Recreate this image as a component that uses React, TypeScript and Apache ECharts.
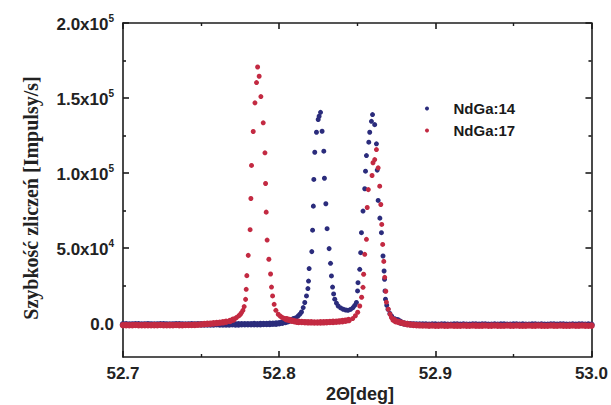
import { useEffect, useRef } from 'react';
import * as echarts from 'echarts';

// ---------- data ----------
const seriesNames = ['NdGa:14', 'NdGa:17'];

const xTickLabels = ['52.7', '52.8', '52.9', '53.0'];
const yMajorTicks = [0, 50000, 100000, 150000, 200000];
const yTickMantissa = ['0.0', '5.0x10', '1.0x10', '1.5x10', '2.0x10'];
const yTickExponent = ['', '4', '5', '5', '5'];
const yMinorTicks = [25000, 75000, 125000, 175000];

// scan grid: start angle and step (deg) for baseline stretches
const BASE_STEP = 0.002;

// NdGa:14 (blue)
const nd14BaseLeftStart = 52.7;
const nd14BaseLeft = [
  -800, -750, -850, -800, -700, -750, -850, -800, -750, -800,
  -850, -800, -700, -750, -800, -850, -800, -750, -700, -800,
  -850, -800, -750, -800, -700, -750, -850, -800, -750, -800,
  -700, -750, -800, -850, -750, -700, -800, -750, -700, -650,
  -700, -650, -600, -650, -600, -550, -500, -450, -350, -250,
  0, 400, 900,
];
const nd14PeakX = [
  52.8056, 52.8075, 52.8094, 52.8108, 52.8122, 52.8133, 52.8143, 52.8154, 52.8164, 52.8175,
  52.8184, 52.8188, 52.8192, 52.8209, 52.8214, 52.8219, 52.8222, 52.8228, 52.8239, 52.825,
  52.8256, 52.8265, 52.8275, 52.8286, 52.829, 52.8299, 52.8307, 52.832, 52.8329, 52.8335,
  52.8342, 52.8349, 52.8356, 52.8367, 52.8378, 52.8394, 52.841, 52.8426, 52.8441, 52.8457,
  52.8473, 52.8484, 52.8495, 52.8502, 52.8505, 52.8516, 52.8522, 52.8527, 52.8537, 52.8548,
  52.8553, 52.8559, 52.8574, 52.858, 52.8591, 52.8598, 52.8612, 52.8623, 52.8628, 52.8634,
  52.8645, 52.8655, 52.8665, 52.8672, 52.8675, 52.8678, 52.8681, 52.8689, 52.8697, 52.8709,
  52.8721, 52.874, 52.8759, 52.8775,
];
const nd14PeakY = [
  1300, 2000, 2700, 3700, 4900, 6100, 7500, 10400, 13800, 18200,
  23100, 28100, 36400, 47700, 62000, 78000, 95800, 113900, 127200, 135700,
  137900, 140500, 127900, 114600, 96600, 79600, 63000, 49700, 39900, 31500,
  24100, 19500, 16000, 13400, 11500, 10200, 9300, 8800, 8600, 9200,
  10400, 11900, 13800, 21500, 27000, 35900, 47000, 60300, 74700, 89600,
  101300, 111700, 120600, 127200, 134500, 139000, 132300, 119500, 102000, 81800,
  70000, 60300, 44800, 34800, 29300, 21500, 16000, 12000, 9300, 6500,
  4700, 3000, 2000, 1000,
];
const nd14BaseRightStart = 52.878;
const nd14BaseRight = [
  300, -200, -500, -700, -800, -900, -850, -950, -900, -1000,
  -950, -900, -1000, -950, -900, -1000, -1050, -950, -900, -1000,
  -950, -1000, -1050, -900, -950, -1000, -950, -900, -1000, -1050,
  -950, -1000, -900, -950, -1000, -1050, -950, -900, -1000, -950,
  -1000, -1050, -950, -900, -1000, -950, -1000, -1050, -900, -950,
  -1000, -950, -900, -1000, -1050, -950, -1000, -900, -950, -1000,
  -950, -1000,
];

// NdGa:17 (red)
const nd17BaseLeftStart = 52.7;
const nd17BaseLeft = [
  -1300, -1250, -1350, -1300, -1200, -1300, -1350, -1250, -1300, -1350,
  -1250, -1300, -1200, -1300, -1350, -1250, -1300, -1200, -1250, -1300,
  -1200, -1150, -1200, -1100, -1000, -800, -600, -450, -300, -100,
  100, 300, 600, 1000,
];
const nd17Peak1X = [
  52.7685, 52.7704, 52.7716, 52.7727, 52.7742, 52.7752, 52.7759, 52.7768, 52.7776, 52.7785,
  52.7789, 52.7793, 52.7802, 52.7814, 52.7819, 52.7823, 52.7834, 52.7845, 52.7855, 52.7862,
  52.7872, 52.7883, 52.7898, 52.7909, 52.7913, 52.7917, 52.7923, 52.7934, 52.7945, 52.7951,
  52.7958, 52.7968, 52.7979, 52.7994, 52.8006, 52.8017, 52.803, 52.8047, 52.8064, 52.8081,
  52.8097, 52.8113,
];
const nd17Peak1Y = [
  1500, 2300, 3000, 3800, 5000, 6000, 7100, 8600, 11100, 15900,
  22600, 31700, 45200, 62300, 83100, 105100, 127700, 146800, 160300, 170700,
  164500, 151000, 133500, 113500, 93100, 74000, 55400, 42600, 32800, 24100,
  18200, 12600, 8600, 6000, 4800, 4000, 3300, 2700, 2200, 1700,
  1300, 1000,
];
const nd17BaseMidStart = 52.8125;
const nd17BaseMid = [900, 800, 700, 600, 600, 500, 500, 550, 600, 700, 800, 900, 1000, 1200, 1400, 1700, 2100];
const nd17Peak2X = [
  52.8471, 52.8488, 52.8503, 52.8516, 52.8528, 52.8537, 52.8541, 52.8548, 52.8559, 52.8564,
  52.8571, 52.8595, 52.8601, 52.8612, 52.8623, 52.8634, 52.8644, 52.8651, 52.8657, 52.8663,
  52.867, 52.8676, 52.8683, 52.8687, 52.8699, 52.871, 52.8719, 52.8733, 52.8747, 52.8765,
  52.8783,
];
const nd17Peak2Y = [
  3100, 5000, 7300, 11500, 17300, 23900, 32600, 45900, 55900, 77100,
  89000, 98400, 106900, 109000, 115700, 103500, 91300, 79100, 65800, 52500,
  41200, 30600, 21300, 14000, 9300, 6000, 3800, 2300, 1300, 800,
  300,
];
const nd17BaseRightStart = 52.88;
const nd17BaseRight = [
  -200, -600, -900, -1100, -1300, -1400, -1500, -1550, -1600, -1500,
  -1650, -1600, -1550, -1700, -1600, -1500, -1650, -1600, -1700, -1550,
  -1600, -1650, -1500, -1600, -1700, -1600, -1550, -1650, -1600, -1500,
  -1600, -1700, -1650, -1550, -1600, -1650, -1500, -1600, -1700, -1600,
  -1550, -1650, -1600, -1500, -1600, -1700, -1650, -1550, -1600, -1650,
  -1500, -1600, -1700, -1600, -1550, -1650, -1600, -1500, -1600, -1650,
  -1600,
];

// ---------- helpers ----------
const onGrid = (start: number, values: number[]) =>
  values.map((v, i) => [+(start + i * BASE_STEP).toFixed(4), v]);
const pairs = (xs: number[], ys: number[]) => xs.map((x, i) => [x, ys[i]]);

const SANS = '"Liberation Sans", Arial, Helvetica, sans-serif';
const SERIF = '"Liberation Serif", "Times New Roman", serif';
const AXIS_COLOR = '#1c1c1c';
const BLUE = '#2b2c7c';
const RED = '#c32a42';

// markers near the baseline drawn a little larger (dense band in the original)
const markerSize = (val: number[]) => (Math.abs(val[1]) < 3000 ? 6.5 : 5);

export default function App() {
  const ref = useRef<HTMLDivElement>(null);

  useEffect(() => {
    if (!ref.current) return;
    const chart = echarts.init(ref.current, null, { renderer: 'svg' });

    const nd14Data = [
      ...onGrid(nd14BaseLeftStart, nd14BaseLeft),
      ...pairs(nd14PeakX, nd14PeakY),
      ...onGrid(nd14BaseRightStart, nd14BaseRight),
    ];
    const nd17Data = [
      ...onGrid(nd17BaseLeftStart, nd17BaseLeft),
      ...pairs(nd17Peak1X, nd17Peak1Y),
      ...onGrid(nd17BaseMidStart, nd17BaseMid),
      ...pairs(nd17Peak2X, nd17Peak2Y),
      ...onGrid(nd17BaseRightStart, nd17BaseRight),
    ];

    const xMin = Number(xTickLabels[0]);
    const xMax = Number(xTickLabels[xTickLabels.length - 1]);
    const yMin = -22500;
    const yMax = yMajorTicks[yMajorTicks.length - 1];

    const xBase = {
      type: 'value' as const,
      min: xMin,
      max: xMax,
      interval: 0.1,
      splitLine: { show: false },
      axisLine: { show: true, onZero: false, lineStyle: { color: AXIS_COLOR, width: 1.6 } },
      axisTick: { show: true, inside: true, length: 6, lineStyle: { color: AXIS_COLOR, width: 1.6 } },
      minorTick: { show: true, splitNumber: 2, length: 3, lineStyle: { color: AXIS_COLOR, width: 1.4 } },
    };

    const yBase = (position: 'left' | 'right', ticks: number[], len: number, showLine: boolean) => ({
      type: 'value' as const,
      position,
      min: yMin,
      max: yMax,
      splitLine: { show: false },
      axisLine: { show: showLine, onZero: false, lineStyle: { color: AXIS_COLOR, width: 1.6 } },
      axisTick: {
        show: true,
        inside: true,
        length: len,
        customValues: ticks,
        lineStyle: { color: AXIS_COLOR, width: 1.6 },
      },
      axisLabel: { show: false },
    });

    const yLabelsAxis = {
      ...yBase('left', yMajorTicks, 6, true),
      axisLabel: {
        show: true,
        customValues: yMajorTicks,
        margin: 9,
        formatter: (v: number) => {
          const i = yMajorTicks.indexOf(v);
          if (i < 0) return '';
          return yTickExponent[i]
            ? `{m|${yTickMantissa[i]}}{e|${yTickExponent[i]}}`
            : `{m|${yTickMantissa[i]}}`;
        },
        rich: {
          m: { fontFamily: SANS, fontWeight: 'bold', fontSize: 17, color: '#222', lineHeight: 20, verticalAlign: 'bottom' },
          e: { fontFamily: SANS, fontWeight: 'bold', fontSize: 10, color: '#222', lineHeight: 20, verticalAlign: 'top' },
        },
      },
    };

    chart.setOption({
      animation: false,
      backgroundColor: '#ffffff',
      grid: { left: 123, right: 19, top: 23, bottom: 48, containLabel: false },
      legend: {
        data: seriesNames,
        orient: 'vertical',
        left: 420,
        top: 96,
        itemWidth: 43,
        itemHeight: 4,
        itemGap: 7,
        textStyle: { fontFamily: SANS, fontWeight: 'bold', fontSize: 15, color: '#1a1a1a' },
      },
      xAxis: [
        {
          ...xBase,
          position: 'bottom',
          axisLabel: {
            show: true,
            margin: 8,
            fontFamily: SANS,
            fontWeight: 'bold',
            fontSize: 17,
            color: '#222',
            formatter: (v: number) => {
              const s = v.toFixed(1);
              return xTickLabels.includes(s) ? s : '';
            },
          },
        },
        { ...xBase, position: 'top', axisLabel: { show: false } },
      ],
      yAxis: [
        yLabelsAxis,
        yBase('left', yMinorTicks, 3, false),
        yBase('right', yMajorTicks, 6, true),
        yBase('right', yMinorTicks, 3, false),
      ],
      graphic: [
        {
          type: 'text',
          x: 31,
          y: 198,
          rotation: Math.PI / 2,
          style: {
            text: 'Szybkość zliczeń [Impulsy/s]',
            fontFamily: SERIF,
            fontWeight: 'bold',
            fontSize: 20,
            fill: '#222',
            align: 'center',
            verticalAlign: 'middle',
          },
        },
        {
          type: 'text',
          x: 360,
          y: 394,
          style: {
            text: '2Θ[deg]',
            fontFamily: SANS,
            fontWeight: 'bold',
            fontSize: 18,
            fill: '#222',
            align: 'center',
            verticalAlign: 'middle',
          },
        },
      ],
      series: [
        {
          name: seriesNames[0],
          type: 'scatter',
          xAxisIndex: 0,
          yAxisIndex: 0,
          symbol: 'circle',
          symbolSize: markerSize,
          itemStyle: { color: BLUE, opacity: 1 },
          data: nd14Data,
          z: 2,
        },
        {
          name: seriesNames[1],
          type: 'scatter',
          xAxisIndex: 0,
          yAxisIndex: 0,
          symbol: 'circle',
          symbolSize: markerSize,
          itemStyle: { color: RED, opacity: 1 },
          data: nd17Data,
          z: 3,
        },
      ],
    });

    return () => chart.dispose();
  }, []);

  return (
    <div
      ref={ref}
      style={{ position: 'fixed', left: 0, top: 0, width: 611, height: 405, background: '#fff' }}
    />
  );
}
